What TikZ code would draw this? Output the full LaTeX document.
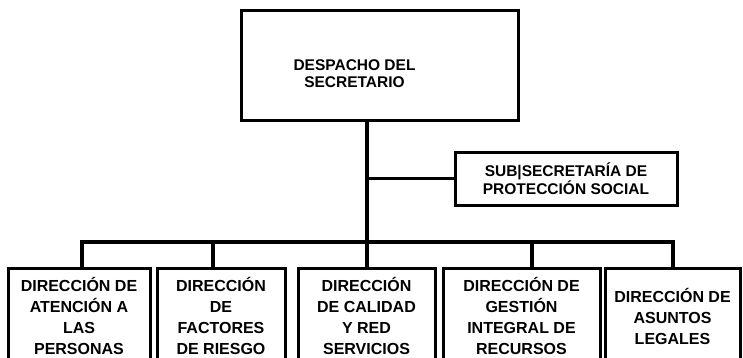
\documentclass[tikz,border=0pt]{standalone}
\usepackage{fontspec}
\setmainfont{Liberation Sans}
\usepackage{xcolor}
\usepackage{tikz}
\usetikzlibrary{arrows, positioning,fit,shapes.misc}

\begin{document}
\begin{tikzpicture}[x=1pt,y=-1pt,
  caja/.style={draw,line width=3pt,align=center,inner sep=0pt,font=\bfseries\fontsize{16}{21}\selectfont},
  chica/.style={font=\bfseries\fontsize{15.5}{17}\selectfont},
  linea/.style={-,line width=3.2pt,color=black,line join=miter}]
\clip (0,0) rectangle (743,357);
\node[caja,chica,minimum width=277pt,minimum height=110pt] (desp) at (379.5,65) {\raisebox{-8pt}[11pt][0pt]{DESPACHO DEL}\hspace*{50pt}\\\raisebox{-8pt}[11pt][0pt]{SECRETARIO}\hspace*{50pt}};
\node[caja,chica,minimum width=222pt,minimum height=53pt] (subs) at (566,178.5) {SUB|SECRETARÍA DE\\PROTECCIÓN SOCIAL};
\node[caja,minimum width=142pt,minimum height=96pt] (dir1) at (79,316) {DIRECCIÓN DE\\ATENCIÓN A\\LAS\\PERSONAS};
\node[caja,minimum width=128pt,minimum height=96pt] (dir2) at (221,316) {DIRECCIÓN\\DE\\FACTORES\\DE RIESGO};
\node[caja,minimum width=137pt,minimum height=96pt] (dir3) at (366.5,316) {DIRECCIÓN\\DE CALIDAD\\Y RED\\SERVICIOS};
\node[caja,minimum width=157pt,minimum height=96pt] (dir4) at (521.5,316) {DIRECCIÓN DE\\GESTIÓN\\INTEGRAL DE\\RECURSOS};
\node[caja,minimum width=135pt,minimum height=96pt] (dir5) at (672.5,316) {DIRECCIÓN DE\\ASUNTOS\\LEGALES};
\coordinate (b1) at (82,242);
\coordinate (b2) at (213,242);
\coordinate (b3) at (367,242);
\coordinate (b4) at (532,242);
\coordinate (b5) at (673,242);
\draw[linea] (desp.south -| b3)--(b3);
\draw[linea] (subs.west -| b3)--(subs.west);
\draw[linea] (b1 |- dir1.north)--(b1)--(b5)--(b5 |- dir5.north);
\draw[linea] (b2)--(b2 |- dir2.north);
\draw[linea] (b3)--(b3 |- dir3.north);
\draw[linea] (b4)--(b4 |- dir4.north);
\end{tikzpicture}
\end{document}
